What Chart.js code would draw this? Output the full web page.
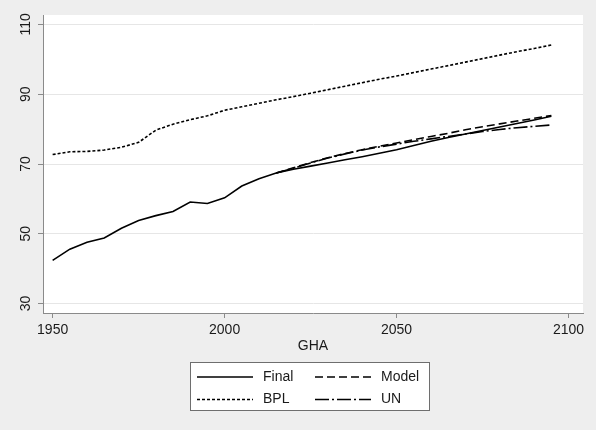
<!DOCTYPE html>
<html>
<head>
<meta charset="utf-8">
<script src="https://cdn.jsdelivr.net/npm/chart.js@4/dist/chart.umd.min.js"></script>
<style>
html,body{margin:0;padding:0;background:#eeeeee;}
#wrap{width:596px;height:430px;}
</style>
</head>
<body>
<div id="wrap"><canvas id="c" width="596" height="430"></canvas></div>
<script>
const years = [1950,1955,1960,1965,1970,1975,1980,1985,1990,1995,2000,2005,2010,2015,2020,2025,2030,2035,2040,2045,2050,2055,2060,2065,2070,2075,2080,2085,2090,2095];
const finalVals = [42.4,45.6,47.6,48.8,51.6,53.8,55.2,56.4,59.1,58.7,60.3,63.7,65.8,67.4,68.5,69.4,70.3,71.2,72.1,73.1,74.1,75.3,76.5,77.6,78.6,79.6,80.6,81.6,82.6,83.7];
const bplVals = [72.7,73.5,73.6,74.0,74.8,76.2,79.7,81.4,82.7,83.8,85.4,86.4,87.4,88.4,89.3,90.3,91.3,92.3,93.3,94.3,95.2,96.2,97.2,98.2,99.2,100.2,101.2,102.2,103.1,104.1];
const modelVals = [null,null,null,null,null,null,null,null,null,null,null,null,null,67.4,68.9,70.4,71.8,73.0,74.1,75.1,76.0,77.0,77.9,78.8,79.8,80.7,81.5,82.3,83.1,83.9];
const unVals = [null,null,null,null,null,null,null,null,null,null,null,null,null,67.4,68.8,70.3,71.7,72.9,74.0,74.9,75.7,76.5,77.2,77.9,78.6,79.3,79.9,80.4,80.8,81.2];
const seriesNames = ["Final","Model","BPL","UN"];
const xTicks = [1950,2000,2050,2100];
const yTicks = [30,50,70,90,110];
const xTitle = "GHA";

const FONT = "'Liberation Sans', Arial, sans-serif";
const dashes = {Final:[], Model:[8,4], BPL:[3,2], UN:[14,3,2,3]};

function pts(vals){ return years.map((y,i)=>({x:y,y:vals[i]})).filter(p=>p.y!==null); }
function ds(name, vals){
  return {label:name, data:pts(vals), borderColor:'#000', borderWidth:1.6, borderDash:dashes[name],
    pointRadius:0, fill:false, tension:0, spanGaps:false};
}

const bgPlugin = {
  id:'bg',
  beforeDraw(chart){
    const {ctx, chartArea:a} = chart;
    ctx.save();
    ctx.fillStyle='#eeeeee';
    ctx.fillRect(0,0,chart.width,chart.height);
    ctx.fillStyle='#ffffff';
    ctx.fillRect(a.left,a.top,a.right-a.left,a.bottom-a.top);
    ctx.restore();
  },
  afterDraw(chart){
    const {ctx, chartArea:a} = chart;
    const ys = chart.scales.y;
    ctx.save();
    ctx.fillStyle='#1a1a1a';
    ctx.font = '14px ' + FONT;
    ctx.textAlign='center';
    ctx.textBaseline='middle';
    yTicks.forEach(v=>{
      const py = ys.getPixelForValue(v);
      ctx.save();
      ctx.translate(26, py);
      ctx.rotate(-Math.PI/2);
      ctx.fillText(String(v),0,0);
      ctx.restore();
    });
    // x title
    ctx.fillText(xTitle, (a.left+a.right)/2, 346);
    // legend
    const lx=190.5, ly=362.5, lw=239, lh=48;
    ctx.fillStyle='#ffffff';
    ctx.fillRect(lx,ly,lw,lh);
    ctx.strokeStyle='#6e6e6e';
    ctx.lineWidth=1;
    ctx.strokeRect(lx,ly,lw,lh);
    const items = [
      {name:'Final', x1:197, x2:253, tx:263, y:377},
      {name:'Model', x1:315, x2:371, tx:381, y:377},
      {name:'BPL', x1:197, x2:253, tx:263, y:399.5},
      {name:'UN', x1:315, x2:371, tx:381, y:399.5}
    ];
    ctx.textAlign='left';
    items.forEach(it=>{
      ctx.beginPath();
      ctx.setLineDash(dashes[it.name]);
      ctx.strokeStyle='#000';
      ctx.lineWidth=1.6;
      ctx.moveTo(it.x1,it.y); ctx.lineTo(it.x2,it.y);
      ctx.stroke();
      ctx.setLineDash([]);
      ctx.fillStyle='#1a1a1a';
      ctx.fillText(it.name, it.tx, it.y);
    });
    ctx.restore();
  }
};

new Chart(document.getElementById('c'), {
  type:'line',
  data:{ datasets:[ ds('Final',finalVals), ds('Model',modelVals), ds('BPL',bplVals), ds('UN',unVals) ] },
  options:{
    responsive:false, animation:false, devicePixelRatio:1,
    layout:{padding:{left:0,right:13,top:15,bottom:0}},
    plugins:{legend:{display:false}, tooltip:{enabled:false}},
    scales:{
      x:{ type:'linear', min:1947.2, max:2104.2,
        afterBuildTicks(s){ s.ticks = xTicks.map(v=>({value:v})); },
        afterFit(s){ s.height = 117; },
        grid:{drawOnChartArea:false, drawTicks:true, tickLength:5, tickColor:'#8a8a8a', tickWidth:1},
        border:{display:true, color:'#8a8a8a', width:1},
        ticks:{ font:{family:FONT, size:14}, color:'#1a1a1a', padding:4, maxRotation:0, autoSkip:false,
          callback:(v)=>String(v) }
      },
      y:{ type:'linear', min:27.3, max:112.7,
        afterBuildTicks(s){ s.ticks = yTicks.map(v=>({value:v})); },
        afterFit(s){ s.width = 43; },
        grid:{drawOnChartArea:true, color:'#e6e6e6', lineWidth:1, drawTicks:true, tickLength:5, tickColor:'#8a8a8a'},
        border:{display:true, color:'#8a8a8a', width:1},
        ticks:{ color:'rgba(0,0,0,0)', font:{family:FONT, size:14}, padding:2 }
      }
    }
  },
  plugins:[bgPlugin]
});
</script>
</body>
</html>
